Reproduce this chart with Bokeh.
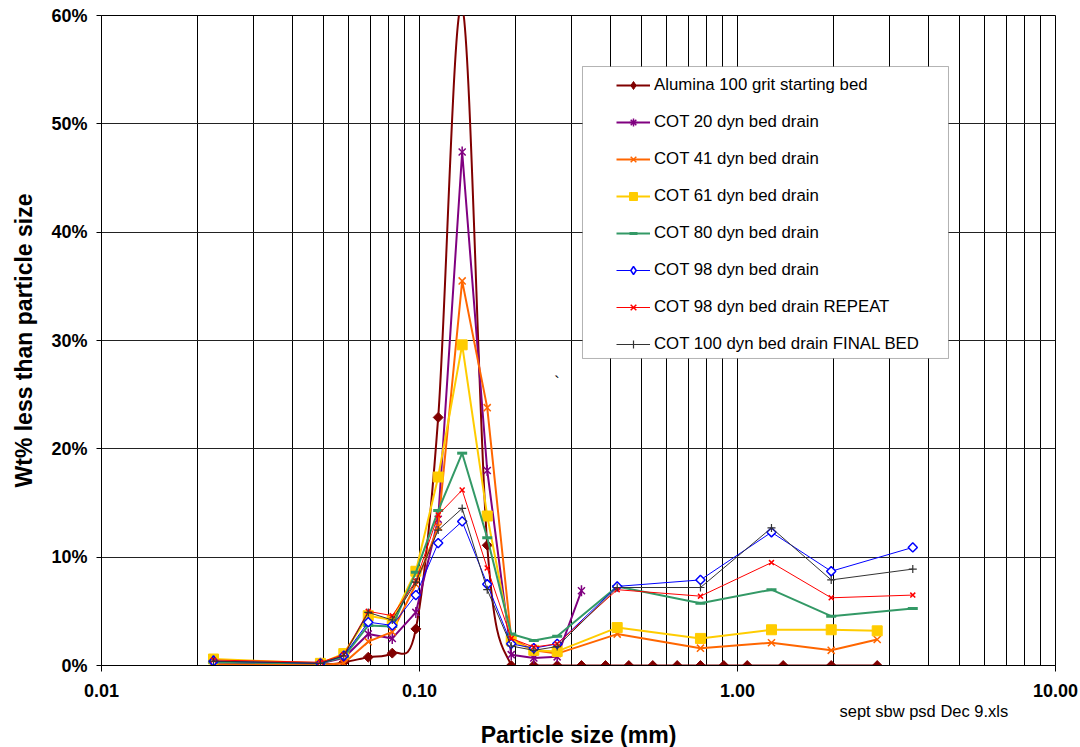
import numpy as np
from bokeh.plotting import figure
from bokeh.models import (FixedTicker, PrintfTickFormatter, CustomJSTickFormatter, Legend,
                          LegendItem, BoxAnnotation, Label, Range1d, Title)
from bokeh.embed import file_html
from bokeh.resources import INLINE

# ---------------- data ----------------
size_fine = [0.0225, 0.0488, 0.0578, 0.0690, 0.0821, 0.0974, 0.1145, 0.1362,
             0.1633, 0.1943, 0.2288, 0.2710]

alumina_x = size_fine + [0.3231, 0.3845, 0.4552, 0.5414, 0.6462, 0.7648, 0.9055,
                         1.073, 1.392, 1.971, 2.750]
alumina_y = [0.3, 0.1, 0.3, 0.77, 1.14, 3.38, 22.9, 60.8, 11.1,
             0, 0, 0, 0, 0, 0, 0, 0, 0, 0, 0, 0, 0, 0]

cot20_x = size_fine + [0.3231]
cot20_y = [0.3, 0.2, 0.7, 2.9, 2.5, 4.9, 13.5, 47.4, 18.0, 1.0, 0.7, 0.8, 6.9]

cot41_x = size_fine + [0.4185, 0.7648, 1.279, 1.971, 2.750]
cot41_y = [0.1, 0.05, 0.2, 2.2, 3.1, 7.5, 12.8, 35.5, 23.8, 2.5, 1.4, 1.1,
           2.9, 1.6, 2.1, 1.4, 2.4]

cot61_x = size_fine + [0.4185, 0.7648, 1.279, 1.971, 2.750]
cot61_y = [0.6, 0.2, 1.1, 4.6, 4.2, 8.7, 17.4, 29.6, 13.8, 2.3, 1.4, 1.3,
           3.5, 2.5, 3.3, 3.3, 3.2]

cot80_x = size_fine + [0.4185, 0.7648, 1.279, 1.971, 3.558]
cot80_y = [0.3, 0.2, 0.8, 3.7, 3.6, 8.6, 14.3, 19.6, 11.8, 2.9, 2.3, 2.7,
           7.3, 5.75, 7.0, 4.55, 5.26]

cot98_x = size_fine + [0.4185, 0.7648, 1.279, 1.971, 3.558]
cot98_y = [0.4, 0.2, 0.9, 4.0, 3.7, 6.5, 11.3, 13.3, 7.5, 2.0, 1.6, 2.0,
           7.3, 7.9, 12.3, 8.7, 10.9]

cot98r_x = size_fine + [0.4185, 0.7648, 1.279, 1.971, 3.558]
cot98r_y = [0.5, 0.3, 1.0, 5.0, 4.6, 7.8, 13.9, 16.2, 9.0, 2.5, 1.7, 2.0,
            7.0, 6.4, 9.5, 6.25, 6.5]

cot100_x = size_fine + [0.4185, 0.7648, 1.279, 1.971, 3.558]
cot100_y = [0.4, 0.2, 0.9, 4.9, 4.2, 7.7, 12.5, 14.5, 7.0, 1.8, 1.4, 1.75,
            7.2, 7.2, 12.7, 7.9, 8.9]

x_major = [0.01, 0.1, 1, 10]
y_ticks = [0, 10, 20, 30, 40, 50, 60]

FONT = "Liberation Sans"

p = figure(width=1080, height=747, x_axis_type="log",
           x_range=Range1d(0.01, 10), y_range=Range1d(0, 60),
           output_backend="svg", toolbar_location=None,
           min_border_left=101, min_border_right=25,
           min_border_top=15, min_border_bottom=0)
p.background_fill_color = "white"
p.border_fill_color = "white"
p.outline_line_color = "black"

minor = [m * d for d in [0.01, 0.1, 1] for m in range(2, 10)]
p.xaxis.ticker = FixedTicker(ticks=x_major, minor_ticks=minor)
p.xaxis.formatter = CustomJSTickFormatter(code="return tick.toFixed(2);")
p.yaxis.ticker = FixedTicker(ticks=y_ticks)
p.yaxis.formatter = PrintfTickFormatter(format="%d%%")

for ax in (p.xaxis[0], p.yaxis[0]):
    ax.axis_line_color = "black"
    ax.major_tick_line_color = "black"
    ax.minor_tick_line_color = None
    ax.major_tick_in = 0
    ax.major_label_text_font = FONT
    ax.major_label_text_font_style = "bold"
    ax.major_label_text_font_size = "18px"
    ax.major_label_text_color = "black"
    ax.axis_label_text_font = FONT
    ax.axis_label_text_font_style = "bold"
    ax.axis_label_text_font_size = "23px"
    ax.axis_label_text_color = "black"

p.xaxis.major_tick_out = 6
p.yaxis.major_tick_out = 5
p.xaxis.major_label_standoff = 12
p.yaxis.major_label_standoff = 9
p.yaxis.axis_label = "Wt% less than particle size"
p.yaxis.axis_label_standoff = 11

# footnote and x-axis title stacked below the axis
p.add_layout(Title(text="sept sbw psd Dec 9.xls", align="left", offset=738,
                   text_font=FONT, text_font_size="16.5px", text_font_style="normal",
                   text_color="black", standoff=0), "below")
p.add_layout(Title(text="Particle size (mm)", align="center",
                   text_font=FONT, text_font_size="23px", text_font_style="bold",
                   text_color="black", standoff=0), "below")

p.xgrid.grid_line_color = "black"
p.xgrid.minor_grid_line_color = "black"
p.xgrid.grid_line_width = 1
p.xgrid.minor_grid_line_width = 1
p.ygrid.grid_line_color = "#222222"
p.ygrid.grid_line_width = 1

# ---------- Alumina: smoothed curve (Catmull-Rom -> cubic Bezier) ----------
lx = np.log10(np.array(alumina_x, float))
ly = np.array(alumina_y, float)
px = np.concatenate([[lx[0]], lx, [lx[-1]]])
py = np.concatenate([[ly[0]], ly, [ly[-1]]])
n = len(lx)
x0 = lx[:-1]; y0 = ly[:-1]; x1 = lx[1:]; y1 = ly[1:]
cx0 = px[1:n] + (px[2:n + 1] - px[0:n - 1]) / 6.0
cy0 = py[1:n] + (py[2:n + 1] - py[0:n - 1]) / 6.0
cx1 = px[2:n + 1] - (px[3:n + 2] - px[1:n]) / 6.0
cy1 = py[2:n + 1] - (py[3:n + 2] - py[1:n]) / 6.0

al_line = p.bezier(x0=10 ** x0, y0=y0, x1=10 ** x1, y1=y1,
                   cx0=10 ** cx0, cy0=cy0, cx1=10 ** cx1, cy1=cy1,
                   line_color="#800000", line_width=2)
p.scatter(alumina_x, alumina_y, marker="square", angle=np.pi / 4,
          size=7, fill_color="#800000", line_color="#800000")
# legend proxy (drawn on the first, hidden point)
al_leg = p.scatter(alumina_x[:1], alumina_y[:1], marker="diamond", size=12,
                   fill_color="#800000", line_color="#800000")

items = [LegendItem(label="Alumina 100 grit starting bed", renderers=[al_line, al_leg])]

# COT 20
l = p.line(cot20_x, cot20_y, line_color="#800080", line_width=2)
p.scatter(cot20_x, cot20_y, marker="x", size=10, line_color="#800080", line_width=1.5)
p.scatter(cot20_x, cot20_y, marker="dash", angle=np.pi / 2, size=11,
          line_color="#800080", line_width=1.5)
s3 = p.scatter(cot20_x[:1], cot20_y[:1], marker="asterisk", size=10,
               line_color="#800080", line_width=1.5)
items.append(LegendItem(label="COT 20 dyn bed drain", renderers=[l, s3]))

# COT 41
l = p.line(cot41_x, cot41_y, line_color="#FF6600", line_width=2)
s = p.scatter(cot41_x, cot41_y, marker="x", size=10, line_color="#FF6600", line_width=1.5)
items.append(LegendItem(label="COT 41 dyn bed drain", renderers=[l, s]))

# COT 61
l = p.line(cot61_x, cot61_y, line_color="#FFCC00", line_width=2)
s = p.scatter(cot61_x, cot61_y, marker="square", size=10, fill_color="#FFCC00",
              line_color="#FFCC00")
items.append(LegendItem(label="COT 61 dyn bed drain", renderers=[l, s]))

# COT 80
l = p.line(cot80_x, cot80_y, line_color="#339966", line_width=2)
s = p.scatter(cot80_x, cot80_y, marker="dash", size=10, line_color="#339966", line_width=3)
items.append(LegendItem(label="COT 80 dyn bed drain", renderers=[l, s]))

# COT 98
l = p.line(cot98_x, cot98_y, line_color="#0000FF", line_width=1)
p.scatter(cot98_x, cot98_y, marker="square", angle=np.pi / 4, size=6.5,
          fill_color="white", line_color="#0000FF", line_width=1.5)
s = p.scatter(cot98_x[:1], cot98_y[:1], marker="diamond", size=11,
              fill_color="white", line_color="#0000FF", line_width=1.5)
items.append(LegendItem(label="COT 98 dyn bed drain", renderers=[l, s]))

# COT 98 REPEAT
l = p.line(cot98r_x, cot98r_y, line_color="#FF0000", line_width=1)
s = p.scatter(cot98r_x, cot98r_y, marker="x", size=7, line_color="#FF0000", line_width=1.5)
items.append(LegendItem(label="COT 98 dyn bed drain REPEAT", renderers=[l, s]))

# COT 100 FINAL BED
l = p.line(cot100_x, cot100_y, line_color="#333333", line_width=1)
s = p.scatter(cot100_x, cot100_y, marker="cross", size=8, line_color="#333333", line_width=1.2)
items.append(LegendItem(label="COT 100 dyn bed drain FINAL BED", renderers=[l, s]))

# legend frame
box = BoxAnnotation(left=0.3255, right=4.608, top=55.29, bottom=28.34,
                    fill_color="white", fill_alpha=1.0,
                    line_color="black", line_width=1)
p.add_layout(box)

legend = Legend(items=items, location=(515, 311), padding=8, spacing=17,
                glyph_width=34, glyph_height=20, label_height=20, label_standoff=4,
                label_text_font=FONT, label_text_font_size="16.8px",
                label_text_color="black",
                border_line_color=None, background_fill_alpha=0, margin=0)
p.add_layout(legend)

p.add_layout(Label(x=0.2707, y=26.1, text="`", text_font=FONT,
                   text_font_size="16px", text_color="black",
                   text_align="center", text_baseline="middle"))

open("out.html", "w").write(file_html(p, INLINE))
